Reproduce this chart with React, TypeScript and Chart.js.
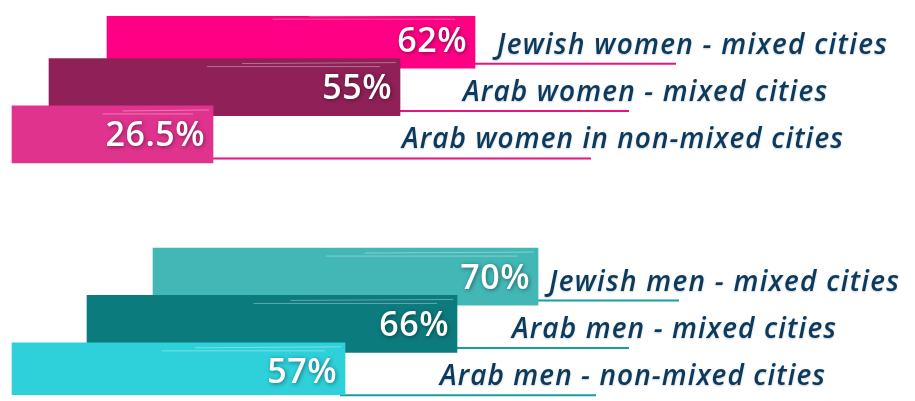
import React, { useEffect, useRef } from "react";
import { Chart, registerables } from "chart.js";

Chart.register(...registerables);

// ---- data ----
const categories = [
  "Jewish women - mixed cities",
  "Arab women - mixed cities",
  "Arab women in non-mixed cities",
  "",
  "",
  "Jewish men - mixed cities",
  "Arab men - mixed cities",
  "Arab men - non-mixed cities",
];
const percentValues = [62, 55, 26.5, null, null, 70, 66, 57];
const percentLabels = percentValues.map((v) => (v == null ? "" : v + "%"));
// bar extents (arbitrary 0-915 axis units)
const barStart = [107, 49, 12, null, null, 153, 87, 12];
const barEnd = [475, 400, 213, null, null, 538, 457, 345];

// ---- layout (not data) ----
const labelX = [497, 463, 402, 0, 0, 549, 512, 440];
const labelEndX = [887, 827, 843, 0, 0, 899, 836, 825];
const lineEnd = [676, 629, 591, 0, 0, 679, 629, 596];
const barColors = ["#ff0084", "#8f2158", "#e0338e", "#fff", "#fff", "#42b7b6", "#0c7b7e", "#2ed0d9"];
const lineColors = ["#e8137f", "#e8137f", "#e8137f", "#fff", "#fff", "#149ea1", "#149ea1", "#149ea1"];
const textColor = "#0d3a5c";

function fitText(ctx: any, text: string, x: number, y: number, targetW: number) {
  ctx.letterSpacing = "0px";
  const w = ctx.measureText(text).width;
  const extra = Math.max(-1, Math.min(3, (targetW - w) / Math.max(1, text.length - 1)));
  ctx.letterSpacing = extra.toFixed(2) + "px";
  ctx.fillText(text, x, y);
  ctx.letterSpacing = "0px";
}

const overlayPlugin = {
  id: "overlay",
  beforeDatasetsDraw(chart: any) {
    const ctx = chart.ctx;
    const meta = chart.getDatasetMeta(0);
    const xs = chart.scales.x;
    meta.data.forEach((bar: any, i: number) => {
      if (barEnd[i] == null) return;
      const y = bar.y + 24;
      ctx.save();
      ctx.strokeStyle = lineColors[i];
      ctx.lineWidth = 2;
      ctx.beginPath();
      ctx.moveTo(bar.x - 5, y);
      ctx.lineTo(xs.getPixelForValue(lineEnd[i]), y);
      ctx.stroke();
      ctx.restore();
    });
  },
  afterDatasetsDraw(chart: any) {
    const ctx = chart.ctx;
    const meta = chart.getDatasetMeta(0);
    const xs = chart.scales.x;
    meta.data.forEach((bar: any, i: number) => {
      if (barEnd[i] == null) return;
      ctx.save();
      ctx.font = "italic 600 28px 'Open Sans', Lato, sans-serif";
      ctx.fillStyle = textColor;
      ctx.textAlign = "left";
      ctx.textBaseline = "alphabetic";
      ctx.shadowColor = "rgba(13,58,92,0.25)";
      ctx.shadowBlur = 2;
      ctx.shadowOffsetY = 1;
      const x0 = xs.getPixelForValue(labelX[i]);
      const x1 = xs.getPixelForValue(labelEndX[i]);
      fitText(ctx, categories[i], x0, bar.y + 14, x1 - x0);
      ctx.restore();
    });
  },
};

const barDecorPlugin = {
  id: "barDecor",
  afterDatasetDraw(chart: any) {
    const ctx = chart.ctx;
    const meta = chart.getDatasetMeta(0);
    meta.data.forEach((bar: any, i: number) => {
      if (barEnd[i] == null) return;
      const top = bar.y - bar.height / 2;
      const left = bar.base;
      const right = bar.x;
      const w = right - left;
      ctx.save();
      ctx.strokeStyle = "rgba(255,255,255,0.35)";
      ctx.lineWidth = 1;
      ctx.beginPath();
      ctx.moveTo(left + w * 0.55, top + 5);
      ctx.lineTo(right - 4, top + 4);
      ctx.moveTo(left + w * 0.45, top + 8);
      ctx.lineTo(right - 20, top + 8);
      ctx.stroke();
      ctx.fillStyle = "#ffffff";
      ctx.font = "600 34px 'Open Sans', Lato, sans-serif";
      ctx.textAlign = "right";
      ctx.textBaseline = "alphabetic";
      ctx.shadowColor = "rgba(0,0,0,0.45)";
      ctx.shadowBlur = 4;
      ctx.shadowOffsetX = 1;
      ctx.shadowOffsetY = 1;
      ctx.letterSpacing = "0.5px";
      ctx.fillText(percentLabels[i], right - 8, bar.y + 12);
      ctx.restore();
    });
  },
};

export default function App() {
  const ref = useRef<HTMLCanvasElement | null>(null);
  useEffect(() => {
    document.body.style.margin = "0";
    const canvas = ref.current;
    if (!canvas) return;
    const chart = new Chart(canvas, {
      type: "bar",
      data: {
        labels: categories,
        datasets: [
          {
            data: barStart.map((s, i) => (s == null ? null : [s, barEnd[i]])) as any,
            backgroundColor: barColors,
            borderWidth: 0,
            barThickness: 57,
          },
        ],
      },
      options: {
        indexAxis: "y",
        responsive: false,
        animation: false,
        layout: { padding: { top: 16, bottom: 6, left: 0, right: 0 } },
        plugins: { legend: { display: false }, tooltip: { enabled: false } },
        scales: {
          x: { type: "linear", min: 0, max: 915, display: false },
          y: { display: false, grid: { display: false } },
        },
      },
      plugins: [overlayPlugin, barDecorPlugin],
    });
    return () => chart.destroy();
  }, []);
  return <canvas ref={ref} width={915} height={401} style={{ display: "block" }} />;
}
